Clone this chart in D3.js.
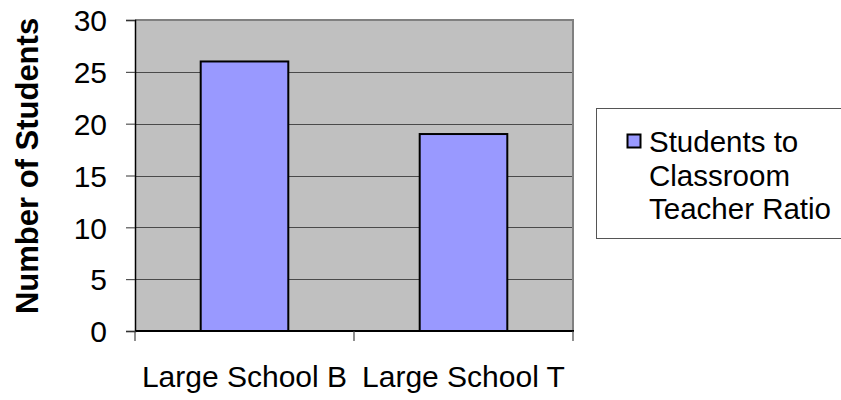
<!DOCTYPE html>
<html>
<head>
<meta charset="utf-8">
<script src="https://cdn.jsdelivr.net/npm/d3@7"></script>
<style>
  html, body { margin: 0; padding: 0; background: #fff; overflow: hidden; }
  svg { display: block; font-family: "Liberation Sans", Arial, sans-serif; }
</style>
</head>
<body>
<svg id="chart" width="841" height="400"></svg>
<script>
// Chart data
const categories = ["Large School B", "Large School T"];
const ratioValues = [26, 19];
const seriesName = ["Students to", "Classroom", "Teacher Ratio"];
const yTicks = [0, 5, 10, 15, 20, 25, 30];
const yTitle = "Number of Students";

const svg = d3.select("#chart");
const plot = { left: 135, right: 573, top: 20, bottom: 331 };

const x = d3.scaleBand()
  .domain(categories)
  .range([plot.left, plot.right])
  .paddingInner(0.6)
  .paddingOuter(0.3);

const xTickScale = d3.scaleLinear()
  .domain([0, categories.length])
  .range([plot.left, plot.right]);

const y = d3.scaleLinear()
  .domain([0, 30])
  .range([plot.bottom, plot.top]);

// Plot background
svg.append("rect")
  .attr("x", plot.left).attr("y", plot.top)
  .attr("width", plot.right - plot.left)
  .attr("height", plot.bottom - plot.top)
  .attr("fill", "#c0c0c0");

// Horizontal gridlines
svg.append("g")
  .selectAll("line")
  .data(yTicks.filter(d => d > 0 && d < 30))
  .join("line")
  .attr("x1", plot.left).attr("x2", plot.right)
  .attr("y1", d => Math.round(y(d)) + 0.5)
  .attr("y2", d => Math.round(y(d)) + 0.5)
  .attr("stroke", "#4a4a4a")
  .attr("stroke-width", 1);

// Top and right frame
svg.append("path")
  .attr("d", `M${plot.left},${plot.top} H${plot.right} V${plot.bottom}`)
  .attr("fill", "none")
  .attr("stroke", "#808080")
  .attr("stroke-width", 2);

// Bars
svg.append("g")
  .selectAll("rect")
  .data(categories.map((c, i) => ({ c, v: ratioValues[i] })))
  .join("rect")
  .attr("x", d => x(d.c))
  .attr("y", d => y(d.v))
  .attr("width", x.bandwidth())
  .attr("height", d => y(0) - y(d.v))
  .attr("fill", "#9999ff")
  .attr("stroke", "#000")
  .attr("stroke-width", 2);

// Y axis
const yAxis = d3.axisLeft(y)
  .tickValues(yTicks)
  .tickSize(9)
  .tickPadding(19)
  .tickFormat(d3.format("d"));

const yg = svg.append("g")
  .attr("transform", `translate(${plot.left},0)`)
  .call(yAxis);
yg.select(".domain").attr("stroke", "#000").attr("stroke-width", 1.5);
yg.selectAll(".tick line").attr("stroke", "#333");
yg.selectAll(".tick text")
  .attr("font-family", "Liberation Sans, Arial, sans-serif")
  .attr("font-size", 30)
  .attr("fill", "#000")
  .attr("dy", "0.36em");

// X axis line and category ticks
svg.append("line")
  .attr("x1", plot.left).attr("x2", plot.right + 1)
  .attr("y1", plot.bottom).attr("y2", plot.bottom)
  .attr("stroke", "#000").attr("stroke-width", 2);

svg.append("g")
  .selectAll("line")
  .data(d3.range(categories.length + 1))
  .join("line")
  .attr("x1", d => xTickScale(d)).attr("x2", d => xTickScale(d))
  .attr("y1", plot.bottom).attr("y2", plot.bottom + 10)
  .attr("stroke", "#444").attr("stroke-width", 1.2);

svg.append("g")
  .selectAll("text")
  .data(categories)
  .join("text")
  .attr("x", d => x(d) + x.bandwidth() / 2)
  .attr("y", 387)
  .attr("text-anchor", "middle")
  .attr("font-size", 30)
  .attr("fill", "#000")
  .text(d => d);

// Y axis title
svg.append("text")
  .attr("transform", "translate(38,166) rotate(-90)")
  .attr("text-anchor", "middle")
  .attr("font-size", 31)
  .attr("font-weight", "bold")
  .attr("fill", "#000")
  .text(yTitle);

// Legend
const legend = svg.append("g");
legend.append("rect")
  .attr("x", 596.5).attr("y", 108.5)
  .attr("width", 260).attr("height", 130)
  .attr("fill", "#fff")
  .attr("stroke", "#555").attr("stroke-width", 1);
legend.append("rect")
  .attr("x", 627.5).attr("y", 134.5)
  .attr("width", 13).attr("height", 13)
  .attr("fill", "#9999ff")
  .attr("stroke", "#000").attr("stroke-width", 2);
legend.append("text")
  .attr("font-size", 29.5)
  .attr("fill", "#000")
  .selectAll("tspan")
  .data(seriesName)
  .join("tspan")
  .attr("x", 649)
  .attr("y", (d, i) => 152 + i * 33.5)
  .text(d => d);
</script>
</body>
</html>
